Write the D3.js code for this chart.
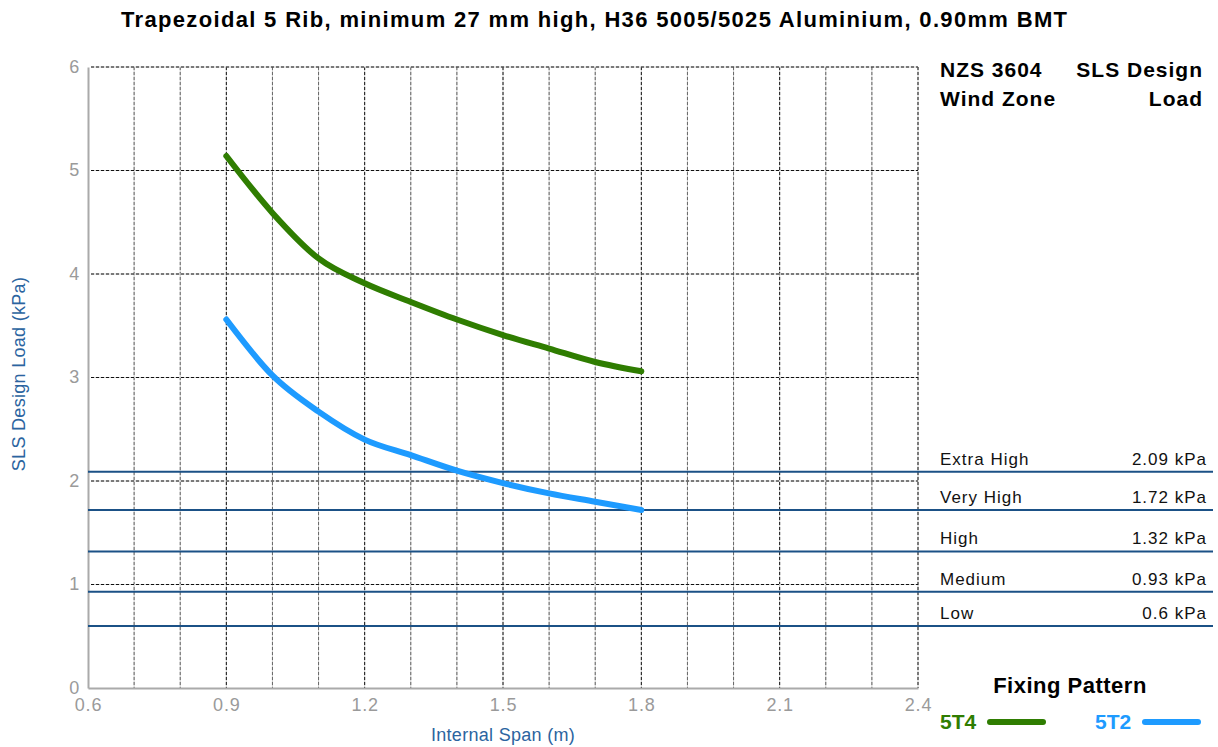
<!DOCTYPE html>
<meta charset="utf-8">
<body style="margin:0;background:#fff">
<svg width="1218" height="747"></svg>
<script src="https://d3js.org/d3.v7.min.js"></script>
<script>

// data
var spans = [0.9, 1.0, 1.1, 1.2, 1.3, 1.4, 1.5, 1.6, 1.7, 1.8];
var load5T4 = [5.14, 4.59, 4.15, 3.91, 3.73, 3.56, 3.41, 3.28, 3.15, 3.06];
var load5T2 = [3.56, 3.02, 2.67, 2.40, 2.25, 2.10, 1.98, 1.88, 1.80, 1.72];
var zoneNames = ["Extra High", "Very High", "High", "Medium", "Low"];
var zoneLoads = [2.09, 1.72, 1.32, 0.93, 0.6];
var xTicks = [0.6, 0.9, 1.2, 1.5, 1.8, 2.1, 2.4];
var yTicks = [0, 1, 2, 3, 4, 5, 6];

var font = "'Liberation Sans', Arial, sans-serif";
var svg = d3.select("svg").style("font-family", font);

var x = d3.scaleLinear().domain([0.6, 2.4]).range([88, 918]);
var y = d3.scaleLinear().domain([0, 6]).range([688, 67]);

// title
svg.append("text")
	.attr("x", 594).attr("y", 27)
	.attr("text-anchor", "middle")
	.attr("font-weight", "bold")
	.attr("font-size", 22)
	.attr("textLength", 946)
	.attr("lengthAdjust", "spacing")
	.text("Trapezoidal 5 Rib, minimum 27 mm high, H36 5005/5025 Aluminium, 0.90mm BMT");

var grid = svg.append("g");

// vertical grid, every 0.1
d3.range(7, 25).forEach(function(i) {
	var v = i / 10;
	var major = (i % 3 == 0);
	grid.append("line")
		.attr("x1", x(v)).attr("x2", x(v))
		.attr("y1", y(6)).attr("y2", y(0))
		.attr("stroke", "#c8c8c8").attr("stroke-width", 1);
	grid.append("line")
		.attr("x1", x(v)).attr("x2", x(v))
		.attr("y1", y(6)).attr("y2", y(0))
		.attr("stroke", major ? "#111" : "#666")
		.attr("stroke-width", 1)
		.attr("stroke-dasharray", "3,2");
});

// horizontal grid at integers
d3.range(1, 7).forEach(function(v) {
	grid.append("line")
		.attr("x1", x(0.6) + 3).attr("x2", x(2.4))
		.attr("y1", y(v)).attr("y2", y(v))
		.attr("stroke", "#c8c8c8").attr("stroke-width", 1);
	grid.append("line")
		.attr("x1", x(0.6) + 3).attr("x2", x(2.4))
		.attr("y1", y(v)).attr("y2", y(v))
		.attr("stroke", "#111")
		.attr("stroke-width", 1)
		.attr("stroke-dasharray", "3,2");
});

// axes
var yAxis = svg.append("g")
	.attr("transform", "translate(" + x(0.6) + ",0)")
	.call(d3.axisLeft(y).tickValues(yTicks).tickSize(0).tickPadding(8).tickFormat(d3.format("d")));
var xAxis = svg.append("g")
	.attr("transform", "translate(0," + y(0) + ")")
	.call(d3.axisBottom(x).tickValues(xTicks).tickSize(0).tickPadding(10).tickFormat(d3.format(".1f")));

[yAxis, xAxis].forEach(function(a) {
	a.attr("font-size", 18).attr("font-family", font);
	a.select(".domain").attr("stroke", "#aaa").attr("stroke-width", 2);
	a.selectAll("text").attr("fill", "#9a9a9a").style("letter-spacing", "0.8px");
});
yAxis.selectAll("text").attr("dy", "0.3em");
xAxis.selectAll("text").attr("dy", "0.72em");

svg.append("text")
	.attr("x", 503).attr("y", 741)
	.attr("text-anchor", "middle")
	.attr("font-size", 18)
	.style("letter-spacing", "0.3px")
	.attr("fill", "#2b64a0")
	.text("Internal Span (m)");

svg.append("text")
	.attr("transform", "translate(25,374) rotate(-90)")
	.attr("text-anchor", "middle")
	.attr("font-size", 18)
	.style("letter-spacing", "0.3px")
	.attr("fill", "#2b64a0")
	.text("SLS Design Load (kPa)");

// wind zone lines and labels
zoneLoads.forEach(function(v, i) {
	svg.append("line")
		.attr("x1", x(0.6)).attr("x2", 1213)
		.attr("y1", y(v)).attr("y2", y(v))
		.attr("stroke", "#1b5186").attr("stroke-width", 2);
	svg.append("text")
		.attr("x", 940).attr("y", y(v) - 7)
		.attr("font-size", 17)
		.style("letter-spacing", "1px")
		.attr("fill", "#111")
		.text(zoneNames[i]);
	svg.append("text")
		.attr("x", 1207).attr("y", y(v) - 7)
		.attr("text-anchor", "end")
		.attr("font-size", 17)
		.style("letter-spacing", "1px")
		.attr("fill", "#111")
		.text(v + " kPa");
});

// curves
var line = d3.line()
	.x(function(d) { return x(d[0]); })
	.y(function(d) { return y(d[1]); })
	.curve(d3.curveMonotoneX);

svg.append("path")
	.datum(d3.zip(spans, load5T4))
	.attr("d", line)
	.attr("fill", "none")
	.attr("stroke", "#2f7d01")
	.attr("stroke-width", 6)
	.attr("stroke-linecap", "round");

svg.append("path")
	.datum(d3.zip(spans, load5T2))
	.attr("d", line)
	.attr("fill", "none")
	.attr("stroke", "#1e9bff")
	.attr("stroke-width", 6)
	.attr("stroke-linecap", "round");

// right panel header
var head = svg.append("g").attr("font-weight", "bold").attr("font-size", 21)
	.style("letter-spacing", "1px").attr("fill", "#000");
head.append("text").attr("x", 940).attr("y", 77).text("NZS 3604");
head.append("text").attr("x", 1203).attr("y", 77).attr("text-anchor", "end").text("SLS Design");
head.append("text").attr("x", 940).attr("y", 106).text("Wind Zone");
head.append("text").attr("x", 1203).attr("y", 106).attr("text-anchor", "end").text("Load");

// legend
svg.append("text")
	.attr("x", 1070).attr("y", 693)
	.attr("text-anchor", "middle")
	.attr("font-weight", "bold")
	.attr("font-size", 22)
	.style("letter-spacing", "0.5px")
	.text("Fixing Pattern");

var legend = [["5T4", "#2f7d01", 940], ["5T2", "#1e9bff", 1095]];
legend.forEach(function(l) {
	svg.append("text")
		.attr("x", l[2]).attr("y", 729)
		.attr("font-weight", "bold")
		.attr("font-size", 21)
		.attr("fill", l[1])
		.text(l[0]);
	svg.append("line")
		.attr("x1", l[2] + 50).attr("x2", l[2] + 103)
		.attr("y1", 722).attr("y2", 722)
		.attr("stroke", l[1])
		.attr("stroke-width", 6)
		.attr("stroke-linecap", "round");
});

</script>
</body>
